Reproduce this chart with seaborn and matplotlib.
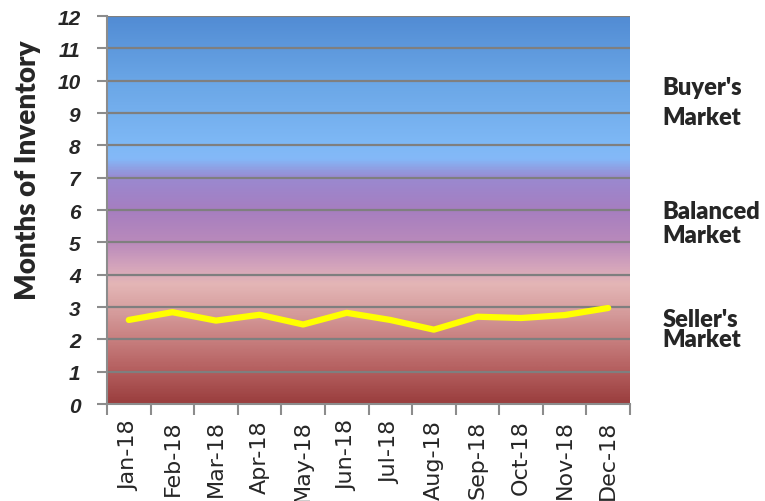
import numpy as np
import pandas as pd
import matplotlib
matplotlib.use("Agg")
import matplotlib.pyplot as plt
from matplotlib.colors import LinearSegmentedColormap
from matplotlib.font_manager import FontProperties
import seaborn as sns

months = ['Jan-18', 'Feb-18', 'Mar-18', 'Apr-18', 'May-18', 'Jun-18',
          'Jul-18', 'Aug-18', 'Sep-18', 'Oct-18', 'Nov-18', 'Dec-18']
inventory = [2.60, 2.84, 2.58, 2.76, 2.46, 2.82, 2.60, 2.30, 2.70, 2.66, 2.75, 2.97]
y_ticks = list(range(0, 13))
zone_lines = [("Buyer's", 9.81), ("Market", 8.89),
              ("Balanced", 5.98), ("Market", 5.23),
              ("Seller's", 2.63), ("Market", 2.01)]

df = pd.DataFrame({'month': months, 'inv': inventory, 'pos': range(len(months))})

sns.set_style("white")

# background gradient (value -> colour)
stops = [(0.0, '#9a3e3e'), (1 / 12, '#b45e5e'), (2 / 12, '#c88080'),
         (3 / 12, '#d8a2a2'), (3.7 / 12, '#e4b6b6'), (4.3 / 12, '#d2a2bc'),
         (5 / 12, '#b98abb'), (6 / 12, '#a67ec0'), (7 / 12, '#9a89d0'),
         (7.6 / 12, '#84b8f8'), (8 / 12, '#7fb9f6'), (10 / 12, '#6aa6e6'),
         (1.0, '#528cd4')]
cmap = LinearSegmentedColormap.from_list('mkt', stops)

fig = plt.figure(figsize=(7.65, 5.02), dpi=100)
ax = fig.add_axes([0.1399, 0.1932, 0.6836, 0.7729])

grad = np.linspace(0, 1, 400).reshape(-1, 1)
ax.imshow(grad, extent=[-0.5, 11.5, 0, 12], origin='lower', aspect='auto',
          cmap=cmap, zorder=0)

for v in y_ticks[1:]:
    ax.axhline(v, color='#7f7f7f', lw=1.6, zorder=1)

sns.lineplot(data=df, x='pos', y='inv', color='#ffff00', lw=4.5, ax=ax, zorder=3)

ax.set_xlim(-0.5, 11.5)
ax.set_ylim(0, 12)
ax.set_yticks(y_ticks)
ytick_font = FontProperties(family='Liberation Sans', style='italic',
                            weight='bold', size=15)
ax.set_yticklabels([str(v) for v in y_ticks], fontproperties=ytick_font)
ax.set_xticks(np.arange(-0.5, 12, 1))
ax.set_xticklabels([])
ax.set_xticks(range(len(months)), minor=True)
ax.set_xticklabels(months, minor=True, rotation=90, fontsize=16,
                   family='DejaVu Sans')
ax.tick_params(axis='x', which='major', length=8, width=1.5, color='#8c8c8c',
               direction='out', bottom=True)
ax.tick_params(axis='x', which='minor', length=0, pad=11)
ax.tick_params(axis='y', length=7, width=1.5, color='#8c8c8c', direction='out',
               left=True, pad=12)
for s in ['top', 'right']:
    ax.spines[s].set_visible(False)
for s in ['left', 'bottom']:
    ax.spines[s].set_color('#8c8c8c')
    ax.spines[s].set_linewidth(1.5)

ax.set_xlabel('')
ax.set_ylabel('Months of Inventory', fontsize=20, fontweight='heavy',
              family='Lato', va='center')
ax.yaxis.set_label_coords(-0.151, 0.606)

for txt, yv in zone_lines:
    ax.text(12.25, yv, txt, fontsize=17, fontweight='heavy', family='Lato',
            va='center', ha='left')

fig.savefig('out.png', dpi=100)
